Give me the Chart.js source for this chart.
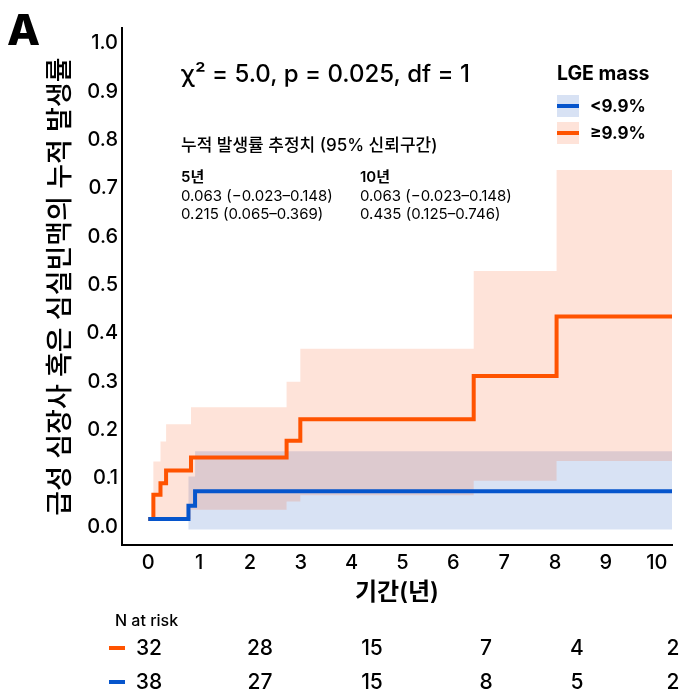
<!DOCTYPE html>
<html>
<head>
<meta charset="utf-8">
<script src="https://cdn.jsdelivr.net/npm/chart.js@4.4.0/dist/chart.umd.min.js"></script>
<style>
    html, body { margin: 0; padding: 0; background: #fff; }
    #wrap { width: 680px; height: 691px; }
</style>
</head>
<body>
<div id="wrap"><canvas id="km" width="680" height="691"></canvas></div>
<script>
const xTicks = [0, 1, 2, 3, 4, 5, 6, 7, 8, 9, 10];
const yTicks = [0.0, 0.1, 0.2, 0.3, 0.4, 0.5, 0.6, 0.7, 0.8, 0.9, 1.0];

// LGE mass >= 9.9%
const timeHigh = [0, 0.10, 0.24, 0.35, 0.84, 2.72, 2.99, 6.40, 8.03, 10.30];
const incHigh = [0.016, 0.066, 0.090, 0.116, 0.143, 0.178, 0.222, 0.312, 0.435, 0.435];
const upperHigh = [0.016, 0.135, 0.176, 0.212, 0.247, 0.300, 0.368, 0.529, 0.738, 0.738];
const lowerHigh = [0.016, 0.016, 0.016, 0.016, 0.035, 0.052, 0.065, 0.095, 0.136, 0.136];

// LGE mass < 9.9%
const timeLow = [0, 0.79, 0.92, 10.30];
const incLow = [0.016, 0.043, 0.073, 0.073];
const upperLow = [0.016, 0.104, 0.156, 0.156];
const lowerLow = [0.016, -0.006, -0.006, -0.006];

const riskHigh = [32, 28, 15, 7, 4, 2];
const riskLow = [38, 27, 15, 8, 5, 2];
const riskColX = [149, 260, 372, 486, 577, 673];

const ORANGE = '#ff5300';
const BLUE = '#0655cc';
const ORANGE_FILL = 'rgba(248, 73, 8, 0.154)';
const BLUE_FILL = 'rgba(2, 67, 184, 0.154)';
const SANS = "Inter, 'Noto Sans CJK KR', sans-serif";

const toPoints = (xs, ys) => xs.map((x, i) => ({x: x, y: ys[i]}));

const stepLine = (label, xs, ys, color) => ({
    label: label,
    data: toPoints(xs, ys),
    borderColor: color,
    borderWidth: 4,
    stepped: 'before',
    pointRadius: 0,
    fill: false
});

const band = (xs, ys, color, fill) => ({
    data: toPoints(xs, ys),
    borderWidth: 0,
    borderColor: 'rgba(0,0,0,0)',
    backgroundColor: color,
    stepped: 'before',
    pointRadius: 0,
    fill: fill
});

const annotate = {
    id: 'annotate',
    afterDraw(chart) {
        const ctx = chart.ctx;
        ctx.save();
        ctx.fillStyle = '#000';
        ctx.textAlign = 'left';
        ctx.textBaseline = 'alphabetic';

        ctx.font = '800 43px ' + SANS;
        ctx.fillText('A', 7, 45);

        ctx.font = '500 24px ' + SANS;
        ctx.fillText('χ² = 5.0, p = 0.025, df = 1', 181, 82);

        ctx.font = '500 17px ' + SANS;
        ctx.fillText('누적 발생률 추정치 (95% 신뢰구간)', 181, 151);

        ctx.font = '600 15px ' + SANS;
        ctx.fillText('5년', 181, 182);
        ctx.fillText('10년', 360, 182);
        ctx.font = '400 15px ' + SANS;
        ctx.fillText('0.063 (−0.023–0.148)', 181, 201);
        ctx.fillText('0.215 (0.065–0.369)', 181, 219);
        ctx.fillText('0.063 (−0.023–0.148)', 360, 201);
        ctx.fillText('0.435 (0.125–0.746)', 360, 219);

        // legend
        ctx.font = '700 19.5px ' + SANS;
        ctx.fillText('LGE mass', 557, 80);
        const items = [['<9.9%', BLUE, BLUE_FILL, 106], ['≥9.9%', ORANGE, ORANGE_FILL, 133]];
        items.forEach(([text, line, fill, y]) => {
            ctx.fillStyle = fill;
            ctx.fillRect(557, y - 11, 22, 22);
            ctx.fillStyle = line;
            ctx.fillRect(557, y - 2, 22, 4);
            ctx.fillStyle = '#000';
            ctx.font = '700 17px ' + SANS;
            ctx.textBaseline = 'middle';
            ctx.fillText(text, 590, y + 1);
            ctx.textBaseline = 'alphabetic';
        });

        // number at risk
        ctx.font = '500 16px ' + SANS;
        ctx.textBaseline = 'middle';
        ctx.fillText('N at risk', 115, 621);
        ctx.fillStyle = ORANGE;
        ctx.fillRect(109, 646, 16, 4);
        ctx.fillStyle = BLUE;
        ctx.fillRect(109, 680, 16, 4);
        ctx.fillStyle = '#000';
        ctx.textAlign = 'center';
        ctx.font = '500 21px ' + SANS;
        riskHigh.forEach((n, i) => ctx.fillText(String(n), riskColX[i], 649));
        riskLow.forEach((n, i) => ctx.fillText(String(n), riskColX[i], 683));
        ctx.restore();
    }
};

new Chart(document.getElementById('km'), {
    type: 'line',
    data: {
        datasets: [
            stepLine('<9.9%', timeLow, incLow, BLUE),
            stepLine('≥9.9%', timeHigh, incHigh, ORANGE),
            band(timeHigh, upperHigh, ORANGE_FILL, '+1'),
            band(timeHigh, lowerHigh, ORANGE_FILL, false),
            band(timeLow, upperLow, BLUE_FILL, '+1'),
            band(timeLow, lowerLow, BLUE_FILL, false)
        ]
    },
    options: {
        responsive: false,
        animation: false,
        devicePixelRatio: 1,
        layout: {padding: {top: 28, right: 8, left: 0, bottom: 0}},
        plugins: {
            legend: {display: false},
            tooltip: {enabled: false},
            filler: {drawTime: 'beforeDatasetsDraw'}
        },
        scales: {
            x: {
                type: 'linear',
                min: -0.517,
                max: 10.30,
                grid: {display: false, drawTicks: false},
                border: {display: true, color: '#000', width: 2},
                afterBuildTicks: s => { s.ticks = xTicks.map(v => ({value: v})); },
                afterFit: s => { s.height = 146; },
                ticks: {
                    color: '#000',
                    padding: 6,
                    font: {family: SANS, size: 20, weight: 500},
                    callback: v => String(v)
                },
                title: {
                    display: true,
                    text: '기간(년)',
                    color: '#000',
                    font: {family: SANS, size: 24, weight: 600},
                    padding: {top: 0, bottom: 84}
                }
            },
            y: {
                type: 'linear',
                min: -0.038,
                max: 1.032,
                grid: {display: false, drawTicks: false},
                border: {display: true, color: '#000', width: 2},
                afterBuildTicks: s => { s.ticks = yTicks.map(v => ({value: v})); },
                afterFit: s => { s.width = 122; },
                ticks: {
                    color: '#000',
                    padding: 4,
                    font: {family: SANS, size: 20, weight: 500},
                    callback: v => v.toFixed(1)
                },
                title: {
                    display: true,
                    text: '급성 심장사 혹은 심실빈맥의 누적 발생률',
                    color: '#000',
                    font: {family: SANS, size: 27, weight: 500},
                    padding: {top: 45, bottom: 0}
                }
            }
        }
    },
    plugins: [annotate]
});
</script>
</body>
</html>
